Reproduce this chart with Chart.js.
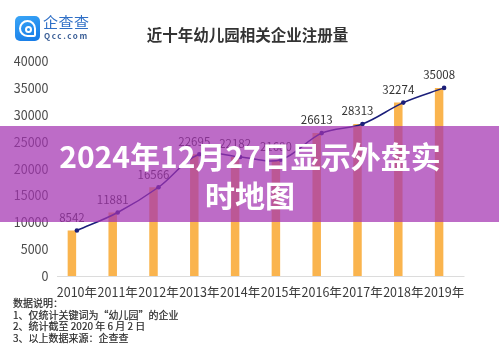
<!DOCTYPE html>
<html lang="zh-CN">
<head>
<meta charset="utf-8">
<title>近十年幼儿园相关企业注册量</title>
<script src="https://cdn.jsdelivr.net/npm/chart.js@4.4.1/dist/chart.umd.min.js"></script>
<style>
    html, body {
        margin: 0;
        padding: 0;
        background: #ffffff;
    }
    body {
        width: 499px;
        height: 348px;
        position: relative;
        overflow: hidden;
        font-family: "Noto Sans CJK SC", "Noto Sans", sans-serif;
    }
    #chartBox {
        position: absolute;
        left: 0;
        top: 0;
        width: 499px;
        height: 348px;
    }
    .logo-icon {
        position: absolute;
        left: 15px;
        top: 16px;
        width: 25px;
        height: 25px;
        border-radius: 5px;
        background: linear-gradient(160deg, #3aa6f7, #1479e6);
    }
    .logo-icon .ring {
        position: absolute;
        left: 4px;
        top: 4px;
        width: 13px;
        height: 13px;
        border: 2.5px solid #ffffff;
        border-radius: 50%;
        border-bottom-right-radius: 2px;
    }
    .logo-icon .dot {
        position: absolute;
        left: 9.5px;
        top: 9.5px;
        width: 7px;
        height: 7px;
        border: 2px solid #ffffff;
        border-radius: 50%;
        box-sizing: border-box;
    }
    .logo-name {
        position: absolute;
        left: 43px;
        top: 13px;
        font-size: 15px;
        line-height: 18px;
        color: #2f6fc6;
        letter-spacing: 0.5px;
    }
    .logo-site {
        position: absolute;
        left: 44px;
        top: 31px;
        font-size: 8px;
        line-height: 10px;
        color: #3a5e96;
        letter-spacing: 1.6px;
        font-weight: bold;
    }
    .chart-title {
        position: absolute;
        left: 0;
        width: 495px;
        top: 24px;
        text-align: center;
        font-size: 15.5px;
        line-height: 20px;
        font-weight: bold;
        color: #333333;
    }
    .notes {
        position: absolute;
        left: 13px;
        top: 297px;
        font-size: 10px;
        line-height: 11.5px;
        color: #2a2a2a;
        -webkit-text-stroke: 0.2px #2a2a2a;
    }
    .banner {
        position: absolute;
        left: 0;
        top: 126px;
        width: 499px;
        height: 96px;
        background: rgba(163, 51, 178, 0.72);
    }
    .banner-text {
        position: absolute;
        left: 0;
        top: 136px;
        width: 500px;
        text-align: center;
        font-size: 30px;
        line-height: 39px;
        font-weight: bold;
        color: #ffffff;
    }
</style>
</head>
<body>
    <div id="chartBox"><canvas id="regChart" width="499" height="348"></canvas></div>

    <div class="logo-icon"><div class="ring"></div><div class="dot"></div></div>
    <div class="logo-name">企查查</div>
    <div class="logo-site">Qcc.com</div>
    <div class="chart-title">近十年幼儿园相关企业注册量</div>

    <div class="notes">
        数据说明：<br>
        1、仅统计关键词为“幼儿园”的企业<br>
        2、统计截至 2020 年 6 月 2 日<br>
        3、以上数据来源：企查查
    </div>

    <div class="banner"></div>
    <div class="banner-text">2024年12月27日显示外盘实<br>时地图</div>

<script>
    // Yearly registrations of kindergarten-related companies
    const years = ['2010年', '2011年', '2012年', '2013年', '2014年', '2015年', '2016年', '2017年', '2018年', '2019年'];
    const registrations = [8542, 11881, 16566, 22695, 22182, 21680, 26613, 28313, 32274, 35008];
    const yTicks = [0, 5000, 10000, 15000, 20000, 25000, 30000, 35000, 40000];

    const tickFont = { family: "'Noto Sans CJK SC', sans-serif", size: 12.5 };

    // Value labels: centred over each bar, sitting just above the line point
    const valueLabels = {
        id: 'valueLabels',
        afterDatasetsDraw(chart) {
            const ctx = chart.ctx;
            const bars = chart.getDatasetMeta(0).data;
            const points = chart.getDatasetMeta(2).data;
            ctx.save();
            ctx.font = "11.5px 'Noto Sans CJK SC', sans-serif";
            ctx.fillStyle = '#333333';
            ctx.textAlign = 'center';
            ctx.textBaseline = 'middle';
            registrations.forEach((v, i) => {
                ctx.fillText(String(v), bars[i].x, points[i].y - 13);
            });
            ctx.restore();
        }
    };

    new Chart(document.getElementById('regChart'), {
        data: {
            labels: years,
            datasets: [{
                type: 'bar',
                label: '注册量',
                data: registrations,
                backgroundColor: '#fab44e',
                borderWidth: 0,
                categoryPercentage: 0.49,
                barPercentage: 0.85,
                order: 2
            }, {
                // empty slot so the bars sit slightly left of each year
                type: 'bar',
                label: '',
                data: years.map(() => null),
                backgroundColor: 'rgba(0,0,0,0)',
                categoryPercentage: 0.49,
                barPercentage: 0.85,
                order: 3
            }, {
                type: 'line',
                label: '趋势',
                data: registrations,
                borderColor: '#1b1f7a',
                backgroundColor: '#1b1f7a',
                borderWidth: 1.5,
                pointRadius: 2.3,
                pointBorderWidth: 0,
                tension: 0.35,
                order: 1
            }]
        },
        options: {
            responsive: false,
            animation: false,
            layout: {
                padding: { left: 0, right: 34.5, top: 61, bottom: 48.5 }
            },
            plugins: {
                legend: { display: false },
                tooltip: { enabled: false }
            },
            scales: {
                x: {
                    offset: true,
                    grid: { display: false },
                    border: { display: false },
                    ticks: {
                        color: '#3a3a3a',
                        font: tickFont,
                        padding: 0,
                        maxRotation: 0,
                        autoSkip: false
                    }
                },
                y: {
                    min: 0,
                    max: 40000,
                    afterBuildTicks(scale) {
                        scale.ticks = yTicks.map(v => ({ value: v }));
                    },
                    afterFit(scale) {
                        scale.width = 56.5;
                    },
                    grid: {
                        drawTicks: false,
                        color: ctx => ctx.tick && ctx.tick.value === 0 ? '#dcdcdc' : 'rgba(0,0,0,0)'
                    },
                    border: { display: false },
                    ticks: {
                        color: '#4a4a4a',
                        font: tickFont,
                        padding: 8,
                        callback: v => String(v)
                    }
                }
            }
        },
        plugins: [valueLabels]
    });
</script>
</body>
</html>
